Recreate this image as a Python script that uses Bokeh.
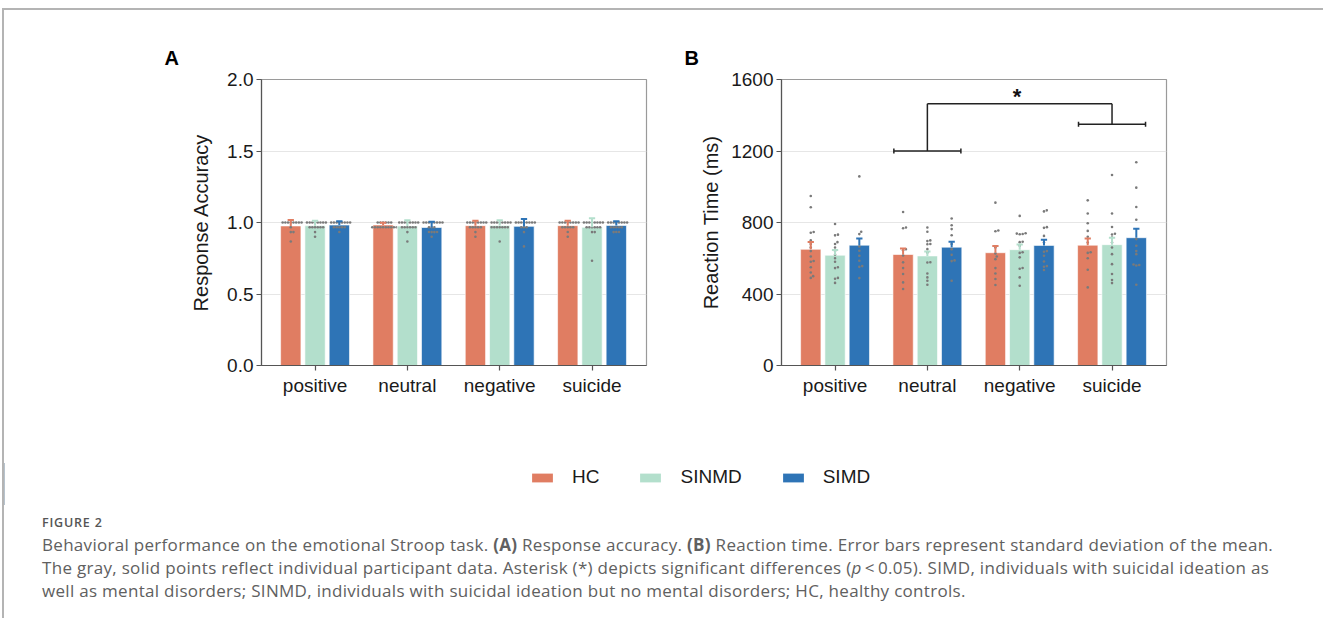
import math
from bokeh.plotting import figure
from bokeh.models import Range1d, FixedTicker, Label, Legend, LegendItem, Div, NumeralTickFormatter, Title
from bokeh.layouts import row, column
from bokeh.embed import file_html
from bokeh.resources import INLINE

# ---------------- data ----------------
categories = ["positive", "neutral", "negative", "suicide"]
groups = ["HC", "SINMD", "SIMD"]
colors = ["#E07D62", "#B3DFCC", "#2E74B6"]

# Panel A: response accuracy (means, upper error)
acc_mean_HC = [0.976, 0.983, 0.978, 0.978]
acc_mean_SINMD = [0.977, 0.975, 0.979, 0.966]
acc_mean_SIMD = [0.982, 0.965, 0.973, 0.979]
acc_err_HC = [0.042, 0.015, 0.034, 0.034]
acc_err_SINMD = [0.035, 0.040, 0.036, 0.063]
acc_err_SIMD = [0.027, 0.040, 0.052, 0.030]

acc_pts_HC = [
    [1.0] * 8 + [0.967] + [0.933] * 2 + [0.867],
    [1.0] * 6 + [0.967] * 10,
    [1.0] * 8 + [0.967] * 5 + [0.933, 0.90],
    [1.0] * 8 + [0.967] * 5 + [0.933, 0.90],
]
acc_pts_SINMD = [
    [1.0] * 8 + [0.967] * 6 + [0.933, 0.90],
    [1.0] * 8 + [0.967] * 6 + [0.933, 0.867],
    [1.0] * 8 + [0.967] * 7 + [0.867],
    [1.0] * 8 + [0.967] * 6 + [0.933] * 2 + [0.733],
]
acc_pts_SIMD = [
    [1.0] * 8 + [0.967] * 5 + [0.933],
    [1.0] * 8 + [0.967] * 3 + [0.933] * 4 + [0.90],
    [1.0] * 8 + [0.967] * 3 + [0.933, 0.833],
    [1.0] * 8 + [0.967] * 5 + [0.933] * 3,
]

# Panel B: reaction time (ms)
rt_mean_HC = [650, 621, 631, 673]
rt_mean_SINMD = [617, 613, 648, 676]
rt_mean_SIMD = [673, 662, 672, 715]
rt_err_HC = [41, 33, 37, 37]
rt_err_SINMD = [29, 25, 29, 39]
rt_err_SIMD = [37, 30, 32, 50]

rt_pts_HC = [
    [948, 885, 747, 743, 700, 680, 660, 640, 610, 585, 580, 550, 520, 500, 490],
    [859, 772, 768, 650, 645, 615, 577, 545, 512, 465, 428],
    [911, 755, 751, 660, 627, 610, 595, 545, 515, 484, 450],
    [924, 850, 796, 753, 720, 688, 634, 630, 600, 536, 437],
]
rt_pts_SINMD = [
    [792, 732, 728, 690, 680, 660, 640, 620, 600, 580, 550, 545, 490, 485, 462],
    [772, 748, 700, 696, 680, 678, 651, 632, 578, 576, 515, 493, 474, 452],
    [837, 740, 738, 736, 734, 692, 690, 670, 634, 630, 605, 545, 541, 493, 446],
    [1066, 850, 775, 737, 733, 716, 688, 660, 623, 567, 512, 478, 461],
]
rt_pts_SIMD = [
    [1058, 748, 735, 666, 642, 614, 586, 556, 552, 489],
    [822, 785, 763, 729, 680, 651, 619, 588, 584, 474],
    [868, 862, 774, 770, 725, 688, 640, 636, 614, 582, 556, 552, 534],
    [1137, 995, 887, 815, 707, 670, 640, 623, 565, 562, 559, 452],
]

# significance annotation (panel B): compared conditions and bracket levels
sig_pair = ["neutral", "suicide"]
sig_bracket_levels = [1200, 1350]
sig_top_level = 1464
sig_text = "*"

# ---------------- layout constants ----------------
FRAME_W, FRAME_H = 385, 286
X_RANGE = (-0.58, 3.59)
GROUP_OFFSETS = [-0.263, 0.0, 0.263]
BAR_W = 0.22
CAP_HALF = 0.034
PX_PER_X = FRAME_W / (X_RANGE[1] - X_RANGE[0])
FONT = "Liberation Sans"
RULE = "#b4b4b4"


def swarm_offsets(vals, ppy, d):
    placed = []
    offs = [0.0] * len(vals)
    order = sorted(range(len(vals)), key=lambda i: vals[i])
    for i in order:
        y = vals[i] * ppy
        cands = [0.0]
        for px, py in placed:
            dy = abs(py - y)
            if dy < d:
                dx = math.sqrt(d * d - dy * dy)
                cands += [px + dx, px - dx]
        cands.sort(key=lambda c: (round(abs(c), 6), -c))
        chosen = 0.0
        for c in cands:
            if all((c - px) ** 2 + (y - py) ** 2 >= d * d - 1e-6 for px, py in placed):
                chosen = c
                break
        placed.append((chosen, y))
        offs[i] = chosen
    return offs


def make_panel(width, mbl, mbr, ymax, yticks, ylabel, label_standoff,
               means, errs, pts, dot_d, letter):
    p = figure(width=width, height=410, x_range=Range1d(*X_RANGE), y_range=Range1d(0, ymax),
               output_backend="svg", toolbar_location=None,
               min_border_left=mbl, min_border_right=mbr, min_border_top=69, min_border_bottom=55)
    p.title = Title(text=letter, align="left", offset=-97, text_font=FONT, text_font_size="20px",
                    text_font_style="bold", text_color="#000000", standoff=22)
    p.outline_line_color = "#9a9a9a"
    p.outline_line_width = 1.2
    p.background_fill_color = "white"
    p.border_fill_color = "white"
    p.xgrid.visible = False
    p.ygrid.grid_line_color = "#e6e6e6"
    p.ygrid.grid_line_width = 1

    p.xaxis.ticker = FixedTicker(ticks=list(range(len(categories))))
    p.xaxis.major_label_overrides = {i: c for i, c in enumerate(categories)}
    p.yaxis.ticker = FixedTicker(ticks=yticks)
    for ax in (p.xaxis[0], p.yaxis[0]):
        ax.axis_line_color = "#555555"
        ax.axis_line_width = 1.2
        ax.major_tick_line_color = "#555555"
        ax.major_tick_line_width = 1.2
        ax.major_tick_out = 5
        ax.major_tick_in = 0
        ax.minor_tick_line_color = None
        ax.major_label_text_font = FONT
        ax.major_label_text_font_size = "19px"
        ax.major_label_text_color = "#1a1a1a"
        ax.major_label_standoff = 3
    p.yaxis.axis_label = ylabel
    p.yaxis.axis_label_text_font = FONT
    p.yaxis.axis_label_text_font_size = "20px"
    p.yaxis.axis_label_text_font_style = "normal"
    p.yaxis.axis_label_text_color = "#1a1a1a"
    p.yaxis.axis_label_standoff = label_standoff
    p.xaxis.major_label_standoff = 4

    ppy = FRAME_H / ymax
    for gi, g in enumerate(groups):
        xs = [ci + GROUP_OFFSETS[gi] for ci in range(len(categories))]
        tops = [m + e for m, e in zip(means[gi], errs[gi])]
        p.vbar(x=xs, top=means[gi], width=BAR_W, bottom=0, fill_color=colors[gi],
               line_color="white", line_alpha=0.6, line_width=1)
        px_, py_ = [], []
        for ci in range(len(categories)):
            vals = pts[gi][ci]
            offs = swarm_offsets(vals, ppy, dot_d)
            px_ += [xs[ci] + o / PX_PER_X for o in offs]
            py_ += vals
        p.scatter(x=px_, y=py_, size=2.6, fill_color="#7a7a7a", line_color=None)
        p.segment(x0=xs, y0=means[gi], x1=xs, y1=tops, line_color=colors[gi], line_width=2)
        p.segment(x0=[x - CAP_HALF for x in xs], y0=tops, x1=[x + CAP_HALF for x in xs], y1=tops,
                  line_color=colors[gi], line_width=2)
    return p


pA = make_panel(675, 257, 33, 2.0, [0, 0.5, 1.0, 1.5, 2.0], "Response Accuracy", 12,
                [acc_mean_HC, acc_mean_SINMD, acc_mean_SIMD],
                [acc_err_HC, acc_err_SINMD, acc_err_SIMD],
                [acc_pts_HC, acc_pts_SINMD, acc_pts_SIMD], 2.7, "A")
pA.yaxis.formatter = NumeralTickFormatter(format="0.0")

pB = make_panel(636, 102, 149, 1600, [0, 400, 800, 1200, 1600], "Reaction Time (ms)", 6,
                [rt_mean_HC, rt_mean_SINMD, rt_mean_SIMD],
                [rt_err_HC, rt_err_SINMD, rt_err_SIMD],
                [rt_pts_HC, rt_pts_SINMD, rt_pts_SIMD], 3.0, "B")

# significance brackets
half = -GROUP_OFFSETS[0] + BAR_W / 2 - 0.01
cap_h = 2.5 * 1600 / FRAME_H
ci = [categories.index(c) for c in sig_pair]
bx0 = [c - half for c in ci]
bx1 = [c + half for c in ci]
pB.segment(x0=bx0, y0=sig_bracket_levels, x1=bx1, y1=sig_bracket_levels,
           line_color="#222222", line_width=1.5)
pB.segment(x0=bx0 + bx1, y0=[l - cap_h for l in sig_bracket_levels] * 2,
           x1=bx0 + bx1, y1=[l + cap_h for l in sig_bracket_levels] * 2,
           line_color="#222222", line_width=1.5)
pB.segment(x0=ci, y0=sig_bracket_levels, x1=ci, y1=[sig_top_level] * 2,
           line_color="#222222", line_width=1.5)
pB.segment(x0=[ci[0]], y0=[sig_top_level], x1=[ci[1]], y1=[sig_top_level],
           line_color="#222222", line_width=1.5)
pB.add_layout(Label(x=(ci[0] + ci[1]) / 2 - 0.03, y=sig_top_level + 40, text=sig_text,
                    text_font=FONT, text_font_size="22px", text_font_style="bold",
                    text_color="#111111", text_align="center", text_baseline="middle"))

# legend figure
pL = figure(width=1311, height=85, x_range=Range1d(0, 1), y_range=Range1d(0, 1),
            output_backend="svg", toolbar_location=None,
            x_axis_location=None, y_axis_location=None, min_border=0)
pL.grid.visible = False
pL.outline_line_color = None
rs = [pL.vbar(x=[-5], top=[0.5], width=0.1, fill_color=c, line_color=None) for c in colors]
legend = Legend(items=[LegendItem(label=g, renderers=[r]) for g, r in zip(groups, rs)],
                orientation="horizontal", location=(525, 17), glyph_width=26, glyph_height=11,
                label_standoff=17, spacing=38, padding=0, margin=0, border_line_color=None,
                background_fill_alpha=0, label_text_font=FONT, label_text_font_size="19px",
                label_text_color="#1a1a1a")
pL.add_layout(legend)

caption_html = (
    "<div style=\"font-family:'Open Sans';color:#606060;padding-left:38px;\">"
    "<div style=\"font-size:12.5px;font-weight:600;letter-spacing:0.8px;line-height:16px;"
    "margin-top:10px;color:#555555;\">FIGURE 2</div>"
    "<div style=\"font-size:17px;letter-spacing:0.3px;line-height:23px;white-space:nowrap;margin-top:2px;\">"
    "Behavioral performance on the emotional Stroop task. <b>(A)</b> Response accuracy. "
    "<b>(B)</b> Reaction time. Error bars represent standard deviation of the mean.<br>"
    "The gray, solid points reflect individual participant data. Asterisk (*) depicts "
    "significant differences (<i>p</i>&thinsp;&lt;&thinsp;0.05). SIMD, individuals with suicidal ideation as<br>"
    "well as mental disorders; SINMD, individuals with suicidal ideation but no mental "
    "disorders; HC, healthy controls."
    "</div></div>"
)
cap = Div(text=caption_html, width=1311, height=108, margin=(0, 0, 0, 0))

inner = column(row(pA, pB), pL, cap)
top_rule = Div(text="", width=1321, height=2, margin=(0, 0, 0, 0),
               styles={"background-color": RULE})
left_rule = Div(text="<div style=\"width:2px;height:608px;background-color:%s;\"></div>" % RULE,
                width=2, height=608, margin=(0, 0, 0, 0),
                styles={"background-color": RULE, "overflow": "visible"})
layout = column(top_rule, row(left_rule, inner), margin=(8, 0, 0, 2))

open("out.html", "w").write(file_html(layout, INLINE))
